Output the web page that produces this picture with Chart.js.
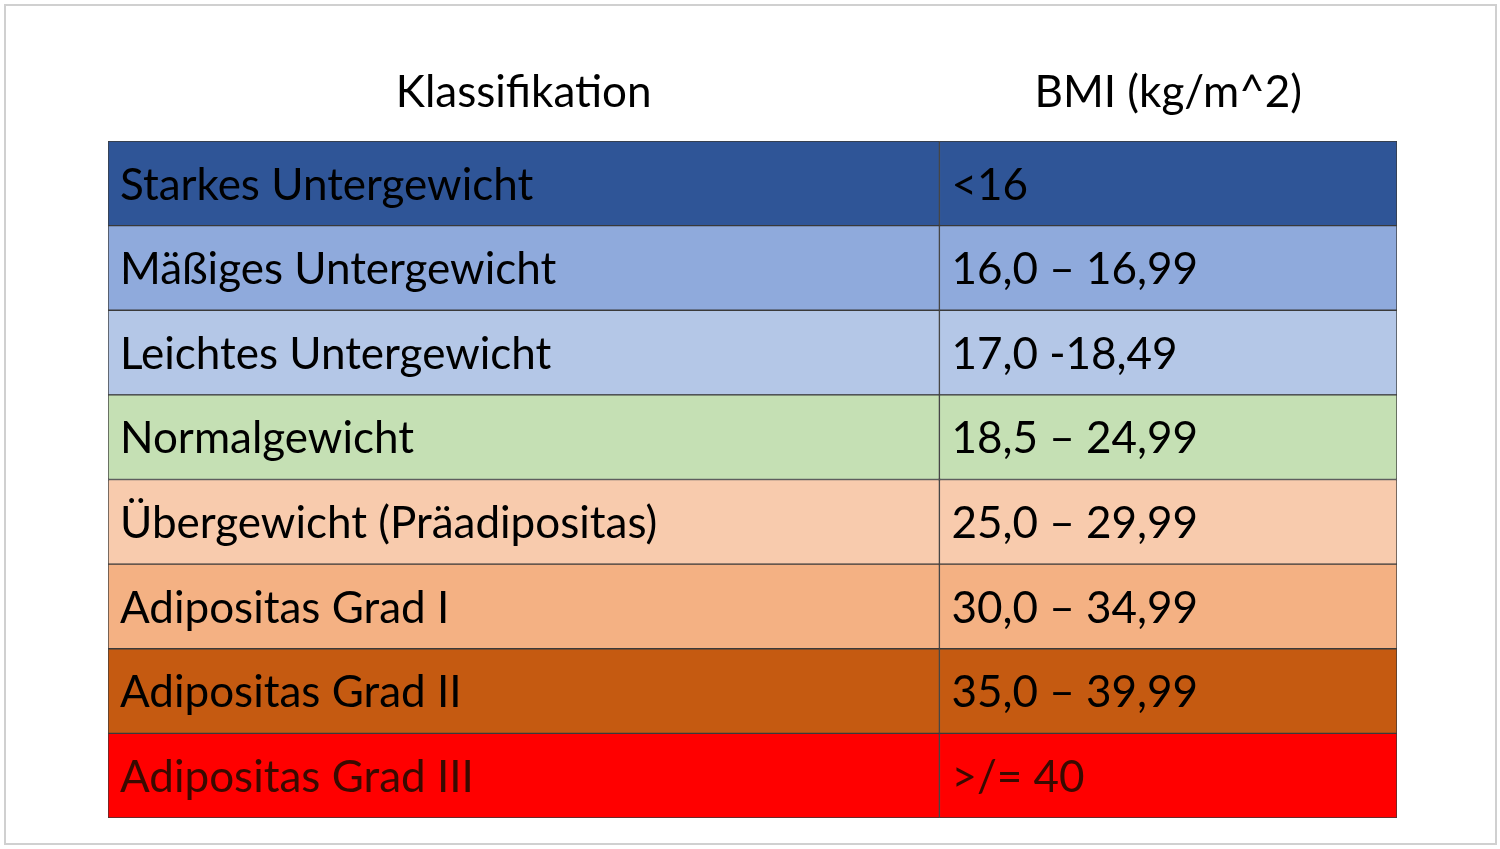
<!DOCTYPE html>
<html><head><meta charset="utf-8">
<script src="https://cdn.jsdelivr.net/npm/chart.js@4/dist/chart.umd.min.js"></script>
<style>html,body{margin:0;padding:0;background:#fff}canvas{display:block}</style>
</head><body>
<canvas id="c" width="1500" height="849"></canvas>
<script>
const headers = ["Klassifikation", "BMI (kg/m^2)"];
const categories = ["Starkes Untergewicht","Mäßiges Untergewicht","Leichtes Untergewicht","Normalgewicht","Übergewicht (Präadipositas)","Adipositas Grad I","Adipositas Grad II","Adipositas Grad III"];
const bmiRanges = ["<16","16,0 – 16,99","17,0 -18,49","18,5 – 24,99","25,0 – 29,99","30,0 – 34,99","35,0 – 39,99",">/= 40"];
const colShare = [64.5, 35.5];
const rowColors = ["#2F5597","#8FAADC","#B4C7E7","#C5E0B4","#F8CBAD","#F4B183","#C55A11","#FF0000"];
const FONT = "44px Lato, 'Open Sans', sans-serif";

const textPlugin = {
  id: 'txt',
  beforeDraw(chart){
    const ctx = chart.ctx;
    ctx.save();
    ctx.strokeStyle = '#d0d0d0'; ctx.lineWidth = 2;
    ctx.strokeRect(5, 5, 1491, 839);
    ctx.restore();
  },
  afterDatasetsDraw(chart){
    const ctx = chart.ctx;
    ctx.save();
    ctx.font = FONT; ctx.textBaseline = 'middle'; ctx.fillStyle = '#000';
    const m0 = chart.getDatasetMeta(0), m1 = chart.getDatasetMeta(1);
    const top = chart.chartArea.top;
    const mid0 = (m0.data[0].base + m0.data[0].x)/2;
    const mid1 = (m1.data[0].base + m1.data[0].x)/2;
    ctx.textAlign = 'center';
    ctx.fillText(headers[0], mid0, top - 48);
    ctx.fillText(headers[1], mid1, top - 48);
    ctx.textAlign = 'left';
    categories.forEach((c,i)=>{
      ctx.fillStyle = i === 7 ? '#3a0a00' : '#000';
      ctx.fillText(c, m0.data[i].base + 12, m0.data[i].y + 2);
      ctx.fillText(bmiRanges[i], m1.data[i].base + 12, m1.data[i].y + 2);
    });
    ctx.restore();
  }
};

new Chart(document.getElementById('c'), {
  type: 'bar',
  data: {
    labels: categories,
    datasets: [
      {data: categories.map(()=>colShare[0]), backgroundColor: rowColors, borderColor: '#3a3a3a', borderWidth: 1, borderSkipped: false},
      {data: categories.map(()=>colShare[1]), backgroundColor: rowColors, borderColor: '#3a3a3a', borderWidth: 1, borderSkipped: false}
    ]
  },
  options: {
    indexAxis: 'y', responsive: false, animation: false,
    layout: {padding: {left: 108, right: 103, top: 141, bottom: 31}},
    datasets: {bar: {categoryPercentage: 1, barPercentage: 1}},
    scales: {
      x: {stacked: true, min: 0, max: 100, display: false},
      y: {stacked: true, display: false}
    },
    plugins: {legend: {display: false}, tooltip: {enabled: false}}
  },
  plugins: [textPlugin]
});
</script>
</body></html>
